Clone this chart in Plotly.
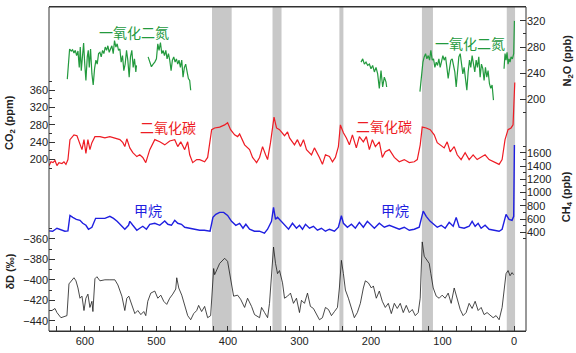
import plotly.graph_objects as go

# ---------------- data (age in thousand years before present) ----------------
n2o_age = [624.6, 622.8, 621.4, 619.1, 617.2, 615.3, 613.5, 611.6, 609.7, 607.9, 606.5, 605.1, 603.7, 601.8,
           600.4, 598.6, 596.7, 595.3, 593.9, 592.1, 590.2, 588.4, 586.5, 584.6, 582.8, 580.9, 579.0, 577.2,
           575.3, 573.5, 571.6, 569.7, 567.9, 566.0, 564.2, 562.3, 560.4, 558.6, 556.7, 554.9, 553.0, 551.1,
           549.3, 547.4, 545.6, 543.7, 541.8, 540.0, 538.1, 536.3, 534.4, 532.5, 530.7, 528.8, 527.9, None,
           511.6, 509.3, 507.0, 504.6, 502.3, 500.0, 498.1, 496.3, 494.4, 492.5, 490.7, 488.8, 486.9, 485.1,
           483.2, 481.4, 479.5, 477.7, 475.8, 473.9, 472.1, 470.2, 468.4, 466.5, 464.6, 462.8, 460.9, 459.1,
           457.2, 455.3, 453.5, 452.1, None,
           213.9, 211.6, 209.3, 207.0, 204.6, 202.3, 200.0, 197.7, 195.3, 193.0, 190.7, 188.4, 186.0, 183.7,
           181.4, 179.1, 178.1, None,
           131.6, 130.2, 128.8, 127.4, 125.6, 123.7, 121.9, 120.0, 118.1, 116.3, 114.4, 112.6, 110.7, 108.8,
           107.0, 105.1, 103.3, 101.4, 99.5, 97.7, 95.8, 93.9, 92.1, 90.2, 88.4, 86.5, 84.7, 82.8, 80.9, 79.1,
           77.2, 75.3, 73.5, 71.6, 69.8, 67.9, 66.0, 64.2, 62.3, 60.5, 58.6, 56.7, 54.9, 53.0, 51.2, 49.3,
           47.4, 45.6, 43.7, 41.9, 40.0, 38.1, 36.3, 34.4, 32.6, 30.7, 28.8, None,
           14.0, 12.6, 11.2, 9.8, 8.4, 7.0, 5.6, 4.2, 2.3, 0.5, -0.5]
n2o_ppb = [231, 265, 277, 274, 276, 271, 275, 267, 274, 249, 280, 244, 270, 286,
           257, 229, 265, 275, 249, 277, 239, 222, 247, 260, 254, 270, 272, 265,
           275, 270, 280, 275, 282, 272, 277, 282, 270, 290, 280, 285, 275, 277,
           257, 267, 244, 254, 275, 260, 234, 265, 275, 249, 262, 242, 252, None,
           265, 257, 250, 254, 257, 262, 285, 275, 287, 270, 275, 267, 275, 262,
           270, 260, 244, 260, 265, 257, 262, 254, 260, 249, 260, 234, 249, 254,
           239, 232, 229, 214, None,
           257, 262, 254, 257, 252, 254, 247, 252, 242, 249, 239, 217, 244, 219,
           234, 227, 219, None,
           212, 229, 237, 257, 265, 270, 262, 267, 260, 275, 260, 262, 249, 257,
           252, 262, 249, 257, 267, 260, 265, 249, 232, 247, 260, 262, 249, 242, 219, 249,
           265, 270, 249, 239, 249, 229, 214, 242, 260, 249, 267, 254, 242, 260, 249, 265,
           234, 254, 247, 229, 249, 234, 244, 224, 217, 222, 199, None,
           247, 270, 260, 272, 254, 262, 257, 265, 262, 270, 320]

co2_age = [650.2, 647.4, 644.6, 641.8, 639.1, 636.3, 632.1, 629.3, 626.5, 623.7, 620.9, 618.1, 615.3, 611.1,
           606.9, 604.1, 601.3, 598.6, 595.8, 593.0, 590.2, 586.0, 579.0, 572.1, 565.1, 558.1, 551.1, 546.9,
           544.2, 541.4, 537.2, 533.0, 527.4, 523.3, 519.1, 514.9, 509.3, 502.3, 495.3, 488.4, 481.4, 474.4,
           470.2, 466.0, 460.5, 456.3, 453.5, 449.3, 443.7, 439.5, 432.6, 428.4, 422.8, 418.6, 411.6, 404.6,
           400.5, 396.3, 390.7, 386.5, 383.7, 376.7, 369.8, 365.6, 360.0, 355.8, 351.6, 347.4, 344.6, 340.5,
           337.7, 335.6, 332.1, 327.9, 320.9, 316.7, 313.9, 307.0, 302.8, 298.6, 294.4, 290.2, 283.2, 279.1,
           272.1, 267.9, 263.7, 258.1, 253.9, 249.8, 245.6, 242.8, 238.6, 234.4, 230.2, 226.0, 220.5, 216.3,
           210.7, 206.5, 202.3, 198.1, 193.9, 188.4, 184.2, 180.0, 174.4, 167.4, 160.5, 153.5, 146.5, 139.5,
           135.3, 131.2, 128.4, 122.8, 117.2, 111.6, 107.4, 103.3, 97.7, 93.5, 89.3, 83.7, 79.5, 74.0,
           68.4, 62.8, 57.2, 51.6, 46.0, 40.5, 34.9, 29.3, 20.9, 16.7, 12.6, 8.4, 4.2, 1.4, -1.0]
co2_ppm = [186, 195, 193, 198, 186, 193, 191, 195, 189, 200, 246, 253, 257, 255,
           234, 223, 246, 214, 246, 223, 239, 253, 253, 250, 253, 250, 246, 239,
           230, 248, 227, 216, 207, 211, 205, 193, 223, 246, 241, 234, 243, 246,
           230, 241, 223, 241, 211, 193, 200, 200, 195, 205, 269, 273, 275, 280,
           285, 269, 257, 253, 259, 234, 223, 205, 193, 205, 230, 211, 200, 239,
           280, 298, 273, 269, 255, 264, 250, 234, 246, 230, 246, 223, 211, 227,
           205, 189, 211, 207, 195, 205, 230, 280, 262, 250, 234, 257, 227, 253,
           241, 253, 223, 246, 230, 241, 205, 218, 223, 205, 195, 200, 193, 195,
           200, 234, 275, 273, 269, 257, 239, 234, 227, 241, 218, 230, 211, 200,
           216, 200, 211, 200, 205, 211, 200, 195, 189, 200, 246, 269, 273, 280, 378]

ch4_age = [650.2, 645.1, 639.1, 632.1, 628.0, 623.7, 620.9, 617.0, 612.0, 606.9, 603.0, 598.6, 595.0, 590.2,
           585.0, 579.0, 572.1, 565.1, 560.0, 555.0, 551.1, 544.2, 539.0, 537.2, 533.0, 527.4, 523.3, 519.1,
           514.0, 509.3, 502.3, 495.3, 488.4, 484.0, 479.0, 474.4, 470.2, 465.0, 460.5, 453.5, 446.0, 439.5,
           433.0, 425.0, 421.0, 417.0, 411.6, 406.0, 400.5, 395.0, 389.0, 383.7, 379.0, 375.0, 369.8, 363.0,
           356.0, 349.0, 344.6, 341.9, 339.1, 336.3, 333.5, 330.7, 325.1, 319.5, 315.3, 309.8, 304.2, 300.0,
           295.8, 291.6, 286.0, 280.5, 274.9, 269.3, 263.7, 258.1, 251.1, 245.6, 241.4, 238.6, 233.0, 227.4,
           221.9, 216.3, 210.7, 205.1, 199.5, 195.3, 188.4, 181.4, 174.4, 167.4, 160.5, 153.5, 146.5, 139.5,
           132.6, 127.0, 122.8, 117.2, 111.6, 107.4, 101.9, 96.3, 90.7, 85.1, 80.9, 76.7, 69.8, 62.8,
           58.6, 54.4, 50.2, 46.0, 40.5, 34.9, 27.9, 20.9, 16.7, 14.0, 11.2, 7.0, 2.8, 0.5, -0.5]
ch4_ppb = [420, 415, 460, 430, 415, 420, 655, 625, 595, 580, 535, 505, 445, 475,
           610, 610, 610, 640, 610, 565, 520, 445, 505, 565, 505, 430, 460, 490,
           445, 520, 535, 505, 570, 520, 505, 580, 535, 520, 475, 460, 445, 430,
           430, 415, 625, 670, 700, 700, 655, 565, 505, 535, 460, 520, 445, 415,
           415, 385, 445, 505, 565, 775, 595, 625, 565, 505, 445, 535, 460, 505,
           445, 520, 460, 490, 430, 460, 415, 445, 415, 475, 650, 535, 475, 520,
           460, 550, 475, 565, 505, 460, 535, 475, 505, 475, 445, 475, 430, 445,
           475, 720, 640, 565, 505, 475, 505, 460, 550, 490, 625, 475, 460, 490,
           565, 490, 535, 460, 505, 445, 430, 415, 445, 565, 670, 595, 580, 640, 1720]

dd_age = [650.2, 646.0, 641.8, 639.1, 633.5, 627.9, 625.1, 622.3, 618.1, 615.3, 612.5, 609.7, 606.9, 604.1,
          601.3, 598.6, 595.8, 593.0, 590.2, 588.8, 586.0, 583.2, 579.0, 572.1, 565.1, 558.1, 553.9, 548.3,
          544.2, 541.4, 538.6, 534.4, 530.2, 526.0, 521.8, 517.7, 514.9, 512.1, 507.9, 502.3, 498.1, 493.9,
          489.8, 485.6, 481.4, 477.2, 473.0, 471.6, 468.8, 464.6, 460.5, 456.3, 452.1, 447.9, 443.7, 441.0,
          436.8, 432.6, 428.4, 424.2, 420.0, 418.6, 411.6, 404.6, 400.5, 396.3, 392.1, 386.5, 382.3, 376.7,
          372.6, 367.0, 362.8, 355.8, 353.0, 348.8, 344.6, 341.9, 339.1, 336.3, 333.5, 330.7, 327.9, 323.7,
          320.9, 316.7, 312.6, 308.4, 304.2, 300.0, 297.2, 293.0, 288.8, 284.7, 280.5, 276.3, 272.1, 267.9,
          263.7, 259.5, 255.3, 251.1, 246.9, 244.2, 241.4, 238.6, 235.8, 231.6, 227.4, 223.3, 219.1, 214.9,
          210.7, 207.9, 203.7, 199.5, 196.7, 192.6, 188.4, 184.2, 180.0, 175.8, 171.6, 167.4, 163.3, 159.1,
          154.9, 150.7, 146.5, 142.3, 138.1, 134.0, 131.2, 128.4, 125.6, 121.4, 118.6, 116.3, 113.0, 108.8,
          104.7, 100.5, 96.3, 92.1, 87.9, 83.7, 79.5, 75.3, 71.2, 67.0, 62.8, 58.6, 54.4, 50.2,
          46.0, 41.9, 37.7, 33.5, 29.3, 25.1, 20.9, 16.7, 14.0, 11.2, 8.4, 5.6, 2.8, 0.7]
dd_permil = [-430, -430, -428, -432, -437, -436, -435, -404, -400, -398, -401, -408, -418, -416,
             -430, -418, -414, -427, -421, -431, -399, -397, -401, -400, -400, -400, -405, -416,
             -430, -418, -416, -424, -433, -430, -434, -431, -435, -421, -413, -411, -418, -415,
             -421, -424, -418, -414, -409, -398, -408, -415, -424, -435, -439, -433, -430, -425,
             -431, -426, -437, -435, -389, -395, -384, -379, -382, -399, -416, -415, -419, -427,
             -418, -426, -434, -437, -427, -432, -437, -423, -399, -368, -384, -394, -391, -403,
             -418, -416, -413, -423, -418, -432, -420, -423, -413, -426, -428, -434, -439, -437,
             -427, -429, -435, -431, -427, -408, -381, -394, -410, -418, -427, -437, -432, -423,
             -408, -401, -403, -408, -406, -418, -411, -421, -427, -423, -433, -423, -428, -423,
             -432, -425, -432, -429, -435, -432, -418, -363, -377, -381, -384, -394, -408, -416,
             -418, -415, -418, -413, -423, -408, -418, -429, -435, -432, -423, -428, -421, -430,
             -427, -434, -432, -435, -437, -435, -439, -427, -408, -394, -391, -396, -393, -395]

interglacials = [(422.3, 394.8), (337.7, 325.1), (244.2, 238.6), (128.8, 113.4), (10.2, -1.4)]

x_ticks = [0, 100, 200, 300, 400, 500, 600]
co2_ticks = [200, 240, 280, 320, 360]
dd_ticks = [-440, -420, -400, -380, -360]
n2o_ticks = [200, 240, 280, 320]
ch4_ticks = [400, 600, 800, 1000, 1200, 1400, 1600]

# ---------------- figure ----------------
GREEN = "#239a3e"
RED = "#ee1c24"
BLUE = "#1f1fe0"
BLACK = "#1a1a1a"
AX = "#333333"
FONT = "Liberation Sans, Arial, sans-serif"
CJK = "Noto Sans CJK SC"

fig = go.Figure()
fig.add_trace(go.Scatter(x=n2o_age, y=n2o_ppb, mode="lines", line=dict(color=GREEN, width=1.2),
                         yaxis="y3", connectgaps=False))
fig.add_trace(go.Scatter(x=co2_age, y=co2_ppm, mode="lines", line=dict(color=RED, width=1.2), yaxis="y"))
fig.add_trace(go.Scatter(x=ch4_age, y=ch4_ppb, mode="lines", line=dict(color=BLUE, width=1.4), yaxis="y4"))
fig.add_trace(go.Scatter(x=dd_age, y=dd_permil, mode="lines", line=dict(color=BLACK, width=0.8), yaxis="y2"))

for a0, a1 in interglacials:
    fig.add_shape(type="rect", xref="x", yref="paper", x0=a0, x1=a1, y0=0, y1=1,
                  fillcolor="#c8c8c8", line_width=0, layer="below")

tickfont = dict(family=FONT, size=11, color="#222")

def yax(rng, ticks, minor_vals, side, overlay=True):
    d = dict(range=rng, tickmode="array", tickvals=ticks, ticks="inside", ticklen=6, tickwidth=1,
             tickcolor=AX, showgrid=False, zeroline=False, showline=False, tickfont=tickfont,
             side=side, anchor="x", fixedrange=True,
             minor=dict(tickmode="array", tickvals=minor_vals, ticks="inside", ticklen=3,
                        tickcolor=AX, tickwidth=1, showgrid=False))
    if overlay:
        d["overlaying"] = "y"
    return d

fig.update_layout(
    width=576, height=353,
    margin=dict(l=49, r=50, t=6, b=20),
    paper_bgcolor="white", plot_bgcolor="white",
    showlegend=False,
    xaxis=dict(range=[650.2, -16.7], tickmode="array", tickvals=x_ticks, ticks="inside", ticklen=5,
               tickcolor=AX, showgrid=False, zeroline=False, showline=True, linecolor=AX, linewidth=1,
               mirror=True, tickfont=tickfont, fixedrange=True,
               minor=dict(tickmode="array", tickvals=[v for v in range(20, 641, 20) if v % 100],
                          ticks="inside", ticklen=5, tickcolor=AX, showgrid=False)),
    yaxis=yax([-195.4, 552.0], co2_ticks, [180, 220, 260, 300, 340, 380], "left", overlay=False),
    yaxis2=yax([-450.0, -133.6], dd_ticks, [-450, -430, -410, -390, -370, -350], "left"),
    yaxis3=yax([-153.6, 341.2], n2o_ticks, [180, 220, 260, 300], "right"),
    yaxis4=yax([-1095.5, 3809.5], ch4_ticks, [300, 500, 700, 900, 1100, 1300, 1500, 1700], "right"),
)
fig.add_shape(type="rect", xref="paper", yref="paper", x0=0, x1=1, y0=0, y1=1,
              line=dict(color=AX, width=1))

# axis titles
titles = [("CO<sub>2</sub> (ppm)", -0.082, 0.645), ("δD (‰)", -0.082, 0.183),
          ("N<sub>2</sub>O (ppb)", 1.088, 0.835), ("CH<sub>4</sub> (ppb)", 1.086, 0.413)]
for txt, xp, yp in titles:
    fig.add_annotation(text="<b>" + txt + "</b>", xref="paper", yref="paper", x=xp, y=yp,
                       textangle=-90, showarrow=False, xanchor="center", yanchor="middle",
                       font=dict(family=FONT, size=11, color="#222"))

# series labels
labels = [("一氧化二氮", 531.6, 0.9235, GREEN), ("一氧化二氮", 61.4, 0.890, GREEN),
          ("二氧化碳", 484.2, 0.630, RED), ("二氧化碳", 182.1, 0.633, RED),
          ("甲烷", 511.4, 0.373, BLUE), ("甲烷", 166.0, 0.373, BLUE)]
for txt, xa, yp, col in labels:
    fig.add_annotation(text=txt, xref="x", yref="paper", x=xa, y=yp, showarrow=False,
                       xanchor="center", yanchor="middle",
                       font=dict(family=CJK, size=14, color=col))

fig.write_html("out.html")
